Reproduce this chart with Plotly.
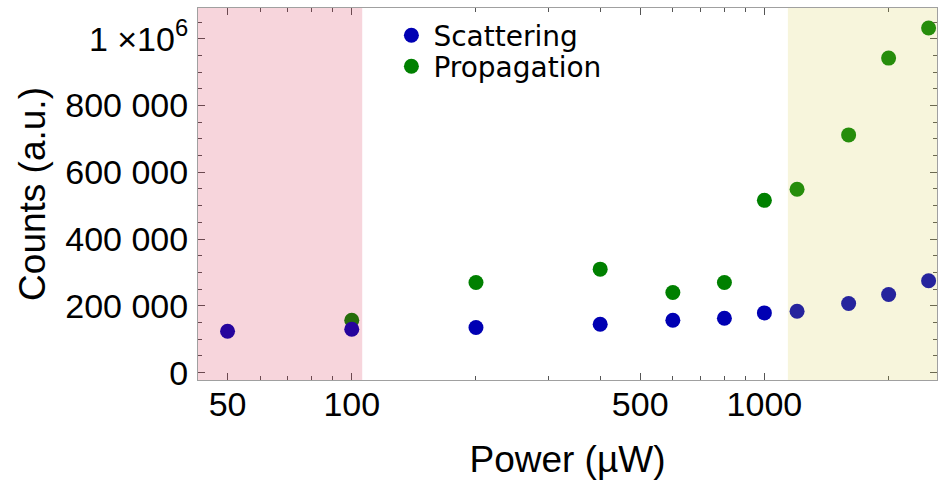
import math
import plotly.graph_objects as go

# Excitation power (µW) and measured counts
power = [50, 100, 200, 400, 600, 800, 1000, 1200, 1600, 2000, 2500]
scattering = [124000, 130000, 135000, 145000, 157000, 163000, 179000, 184000, 207000, 234000, 275000]
propagation = [None, 157000, 270000, 310000, 240000, 270000, 516000, 549000, 712000, 942000, 1032000]

# Axis ticks
x_ticks = [50, 100, 500, 1000]
x_minor = [60, 70, 80, 90, 200, 300, 400, 600, 700, 800, 900, 2000]
y_ticks = [0, 200000, 400000, 600000, 800000, 1000000]
y_labels = ["0", "200 000", "400 000", "600 000", "800 000", "1 ×10<sup>6</sup>"]

# Shaded power regimes
low_band = (30, 106)
high_band = (1140, 5000)

tick_font = dict(family="Liberation Sans, Arial", size=34, color="black")
title_font = dict(family="Liberation Sans, Arial", size=37, color="black")
legend_font = dict(family="DejaVu Sans", size=28, color="black")

fig = go.Figure()
fig.add_trace(go.Scatter(
    x=power, y=propagation, mode="markers", name="Propagation", legend="legend2",
    marker=dict(color="#008000", size=15, line=dict(width=0)),
))
fig.add_trace(go.Scatter(
    x=power, y=scattering, mode="markers", name="Scattering", legend="legend",
    marker=dict(color="#0000b3", size=15, line=dict(width=0)),
))

for (x0, x1), col in [(low_band, "rgb(210,20,60)"), (high_band, "rgb(210,199,61)")]:
    fig.add_shape(type="rect", xref="x", yref="paper", x0=x0, x1=x1, y0=0, y1=1,
                  fillcolor=col, opacity=0.18, line=dict(width=0), layer="above")

fig.update_xaxes(
    type="log", range=[math.log10(42.4), math.log10(2620)],
    tickmode="array", tickvals=x_ticks, ticktext=[str(v) for v in x_ticks],
    ticks="inside", ticklen=7, tickcolor="#555555", tickwidth=1,
    minor=dict(tickmode="array", tickvals=x_minor, ticks="inside", ticklen=4,
               tickcolor="#555555", showgrid=False),
    showline=True, linecolor="#a0a0a0", linewidth=1, mirror="ticks",
    showgrid=False, zeroline=False, tickfont=tick_font, ticklabelstandoff=-6,
    title=dict(text="Power (µW)", font=title_font, standoff=24),
)
fig.update_yaxes(
    range=[-22000, 1092000],
    tickmode="array", tickvals=y_ticks, ticktext=y_labels,
    ticks="inside", ticklen=7, tickcolor="#555555", tickwidth=1,
    minor=dict(dtick=50000, ticks="inside", ticklen=4, tickcolor="#555555", showgrid=False),
    showline=True, linecolor="#a0a0a0", linewidth=1, mirror="ticks",
    showgrid=False, zeroline=False, tickfont=tick_font, ticklabelstandoff=2,
    title=dict(text="Counts (a.u.)", font=title_font, standoff=8),
)

legend_common = dict(xanchor="left", yanchor="top", bgcolor="rgba(0,0,0,0)",
                     font=legend_font, itemsizing="trace", itemwidth=34)
fig.update_layout(
    width=938, height=486,
    margin=dict(l=198, r=1, t=8, b=106),
    paper_bgcolor="white", plot_bgcolor="white",
    showlegend=True,
    legend=dict(x=0.259, y=0.993, **legend_common),
    legend2=dict(x=0.259, y=0.91, **legend_common),
)

fig.write_html("out.html")
